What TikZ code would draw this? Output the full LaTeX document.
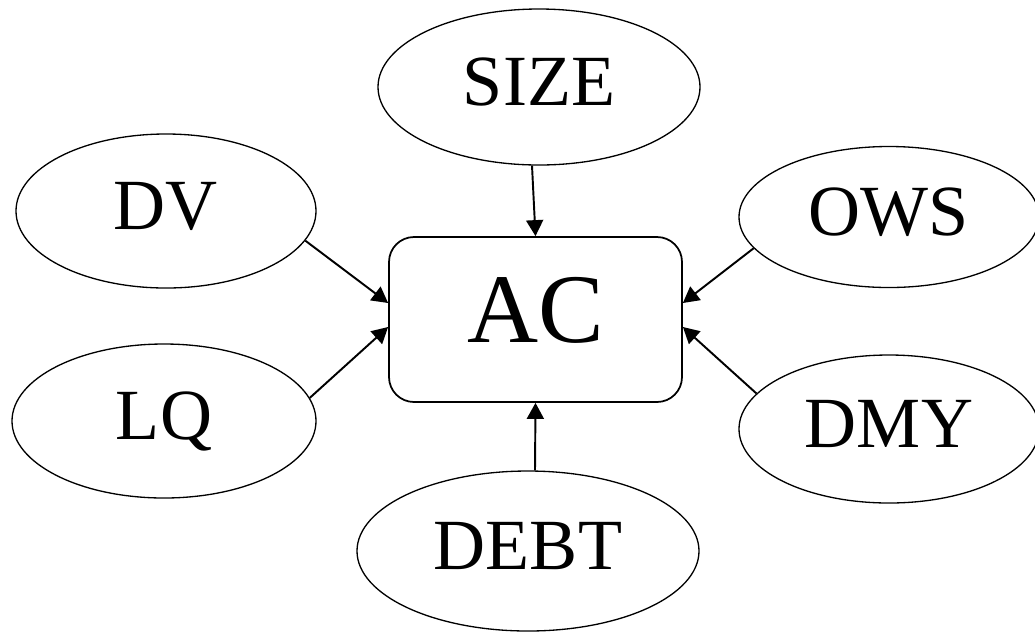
\documentclass[tikz,border=0pt]{standalone}
\usepackage{fontspec}
\setmainfont{Liberation Serif}
\usetikzlibrary{shapes.geometric, arrows.meta}
\begin{document}
\begin{tikzpicture}[
    factor/.style={draw, ellipse, line width=0.75pt, inner sep=0pt, text depth=0.2cm, font=\fontsize{41}{41}\selectfont},
    target/.style={draw, rounded corners=0.5cm, line width=1pt, minimum width=5.86cm, minimum height=3.3cm, text depth=0.4cm, font=\fontsize{56}{56}\selectfont},
    link/.style={line width=1.1pt, -{Triangle[length=0.32cm, width=0.34cm]}}]
  \useasboundingbox (0,0) rectangle (20.7,-12.66);
  \node[target] (ac) at (10.71,-6.39) {AC};
  \node[factor, minimum width=6.44cm, minimum height=3.12cm] (size) at (10.78,-1.74) {SIZE};
  \node[factor, minimum width=6.0cm, minimum height=3.08cm] (dv) at (3.32,-4.22) {DV};
  \node[factor, minimum width=6.08cm, minimum height=3.08cm] (lq) at (3.28,-8.42) {LQ};
  \node[factor, minimum width=6.0cm, minimum height=2.82cm] (ows) at (17.78,-4.34) {OWS};
  \node[factor, minimum width=6.0cm, minimum height=2.96cm] (dmy) at (17.78,-8.58) {DMY};
  \node[factor, minimum width=6.84cm, minimum height=3.2cm] (debt) at (10.56,-11.02) {DEBT};
  \draw[link] ([xshift=-1.4mm]size.south) -- (ac.north);
  \draw[link] ([xshift=1.4mm]debt.north) -- (ac.south);
  \draw[link] (dv.-12) -- ([yshift=0.33cm]ac.west);
  \draw[link] (lq.9) -- ([yshift=-0.15cm]ac.west);
  \draw[link] (ows.193) -- ([yshift=0.33cm]ac.east);
  \draw[link] (dmy.165) -- ([yshift=-0.15cm]ac.east);
\end{tikzpicture}
\end{document}
